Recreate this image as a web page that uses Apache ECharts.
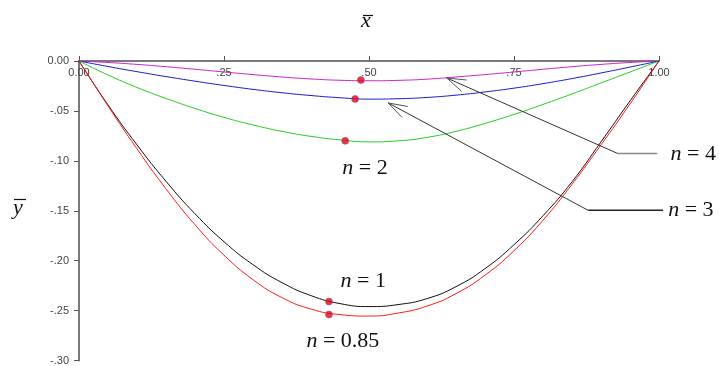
<!DOCTYPE html>
<html>
<head>
<meta charset="utf-8">
<script src="https://cdn.jsdelivr.net/npm/echarts@6/dist/echarts.min.js"></script>
<style>
  html, body { margin: 0; padding: 0; background: #ffffff; }
  #chart { width: 719px; height: 366px; }
</style>
</head>
<body>
<div id="chart"></div>
<script>
// Normalised position along the span
const xPos = [0, 0.05, 0.10, 0.15, 0.20, 0.25, 0.30, 0.35, 0.40, 0.45, 0.50,
              0.55, 0.60, 0.65, 0.70, 0.75, 0.80, 0.85, 0.90, 0.95, 1.00];

// Normalised deflection for each exponent n
const yN085 = [0, -0.045, -0.088, -0.128, -0.164, -0.1945, -0.219, -0.237, -0.2485, -0.254, -0.2555,
               -0.2525, -0.2455, -0.233, -0.2145, -0.190, -0.1595, -0.1235, -0.084, -0.043, 0];
const yN1   = [0, -0.044, -0.084, -0.1205, -0.153, -0.181, -0.204, -0.222, -0.235, -0.243, -0.246,
               -0.244, -0.238, -0.226, -0.208, -0.184, -0.155, -0.121, -0.081, -0.040, 0];
const yN2   = [0, -0.014, -0.0265, -0.0375, -0.0475, -0.0565, -0.064, -0.0705, -0.0755, -0.079, -0.081,
               -0.0800, -0.0765, -0.0705, -0.0625, -0.0535, -0.0435, -0.0330, -0.0220, -0.0110, 0];
const yN3   = [0, -0.0055, -0.0107, -0.0156, -0.0202, -0.0245, -0.0284, -0.0318, -0.0346, -0.0368, -0.0382,
               -0.0378, -0.0365, -0.0342, -0.0310, -0.0272, -0.0227, -0.0176, -0.0120, -0.0061, 0];
const yN4   = [0, -0.0015, -0.0034, -0.0057, -0.0083, -0.0110, -0.0136, -0.0160, -0.0180, -0.0193, -0.0198,
               -0.0194, -0.0182, -0.0160, -0.0136, -0.0110, -0.0083, -0.0057, -0.0034, -0.0015, 0];

// Highlighted points on each curve (n = 4, 3, 2, 1, 0.85)
const markX = [0.486, 0.476, 0.459, 0.431, 0.431];
const markY = [-0.019, -0.038, -0.080, -0.241, -0.254];

// Axis ticks
const xTicks = [0, 0.25, 0.50, 0.75, 1.00];
const yTicks = [0, -0.05, -0.10, -0.15, -0.20, -0.25, -0.30];

// Curve labels (text, anchor in data units)
const curveLabels = ['4', '3', '2', '1', '0.85'];
const labelX = [1.059, 1.055, 0.493, 0.490, 0.455];
const labelY = [-0.093, -0.149, -0.107, -0.221, -0.281];

// Leader lines for n = 4 and n = 3: tip on the curve, elbow, end of the horizontal run
const leaderTip   = [[0.634, -0.017], [0.533, -0.042]];
const leaderElbow = [[0.929, -0.0927], [0.878, -0.1496]];
const leaderEnd   = [[0.997, -0.0927], [1.007, -0.1496]];

const pairs = ys => xPos.map((x, i) => [x, ys[i]]);

const fmtX = v => {
  if (Math.abs(v) < 1e-9) return '0.00';
  if (Math.abs(v - 1) < 1e-9) return '1.00';
  return v.toFixed(2).slice(1);
};
const fmtY = v => {
  if (Math.abs(v) < 1e-9) return '0.00';
  return '-' + Math.abs(v).toFixed(2).slice(1);
};

const chart = echarts.init(document.getElementById('chart'), null, { renderer: 'canvas' });

const lineSeries = (name, ys, color) => ({
  name, type: 'line', data: pairs(ys), smooth: true, showSymbol: false,
  lineStyle: { color, width: 1 }, z: 2, silent: true
});

chart.setOption({
  animation: false,
  backgroundColor: '#ffffff',
  grid: { left: 79, top: 61, right: 60, bottom: 4 },
  xAxis: {
    type: 'value', position: 'top', min: 0, max: 1, interval: 0.25,
    axisLine: { onZero: false, lineStyle: { color: '#7a7a7a', width: 2 } },
    axisTick: { show: true, inside: false, length: 5, lineStyle: { color: '#555', width: 1 } },
    axisLabel: {
      inside: true, margin: 6, formatter: fmtX, color: '#444',
      fontFamily: 'Liberation Sans', fontSize: 11
    },
    splitLine: { show: false }
  },
  yAxis: {
    type: 'value', min: -0.30, max: 0, interval: 0.05,
    axisLine: { show: true, onZero: false, lineStyle: { color: '#7a7a7a', width: 2 } },
    axisTick: { show: true, length: 5, lineStyle: { color: '#555', width: 1 } },
    axisLabel: {
      margin: 10, formatter: fmtY, color: '#444',
      fontFamily: 'Liberation Sans', fontSize: 11
    },
    splitLine: { show: false }
  },
  series: [
    lineSeries('n=4', yN4, '#cc22cc'),
    lineSeries('n=3', yN3, '#1a1acc'),
    lineSeries('n=2', yN2, '#22cc22'),
    lineSeries('n=1', yN1, '#111111'),
    lineSeries('n=0.85', yN085, '#ff1a1a'),
    {
      name: 'points', type: 'scatter', symbol: 'circle', symbolSize: 7, z: 5,
      data: markX.map((x, i) => [x, markY[i]]),
      itemStyle: { color: '#ee0010', borderColor: '#6a6a90', borderWidth: 0.7 },
      silent: true
    }
  ]
});

// Overlay: axis titles, curve labels and leader lines
const px = pt => chart.convertToPixel({ gridIndex: 0 }, pt);
const graphics = [];

const serif = '"Liberation Serif", "DejaVu Serif", serif';

// Axis titles: x with overbar, y with overbar
graphics.push({
  type: 'text', left: 361, top: 10,
  style: { text: 'x', font: 'italic 22px ' + serif, fill: '#111' }
});
graphics.push({ type: 'line', shape: { x1: 363, y1: 15.5, x2: 373, y2: 15.5 }, style: { stroke: '#111', lineWidth: 1.2 } });
graphics.push({
  type: 'text', left: 13, top: 197,
  style: { text: 'y', font: 'italic 22px ' + serif, fill: '#111' }
});
graphics.push({ type: 'line', shape: { x1: 14, y1: 199.5, x2: 26, y2: 199.5 }, style: { stroke: '#111', lineWidth: 1.2 } });

// Curve labels
curveLabels.forEach((t, i) => {
  const p = px([labelX[i], labelY[i]]);
  graphics.push({
    type: 'text', x: p[0], y: p[1], z: 10,
    style: {
      text: '{i|n}{r| = ' + t + '}',
      align: 'center', verticalAlign: 'middle',
      rich: {
        i: { font: 'italic 22px ' + serif, fill: '#111' },
        r: { font: '22px ' + serif, fill: '#111' }
      }
    }
  });
});

// Leader lines with open arrowheads
leaderTip.forEach((tipD, i) => {
  const tip = px(tipD), elbow = px(leaderElbow[i]), end = px(leaderEnd[i]);
  graphics.push({ type: 'line', z: 8, shape: { x1: tip[0], y1: tip[1], x2: elbow[0], y2: elbow[1] }, style: { stroke: '#333', lineWidth: 1 } });
  graphics.push({ type: 'line', z: 8, shape: { x1: elbow[0], y1: elbow[1], x2: end[0], y2: end[1] }, style: { stroke: i === 0 ? '#888' : '#222', lineWidth: 1.5 } });
  const ang = Math.atan2(elbow[1] - tip[1], elbow[0] - tip[0]);
  const len = 20, spread = 18 * Math.PI / 180;
  const w1 = [tip[0] + len * Math.cos(ang - spread), tip[1] + len * Math.sin(ang - spread)];
  const w2 = [tip[0] + len * Math.cos(ang + spread), tip[1] + len * Math.sin(ang + spread)];
  graphics.push({ type: 'polyline', z: 8, shape: { points: [w1, tip, w2] }, style: { stroke: '#555', lineWidth: 1, fill: null } });
});

chart.setOption({ graphic: graphics });
</script>
</body>
</html>
